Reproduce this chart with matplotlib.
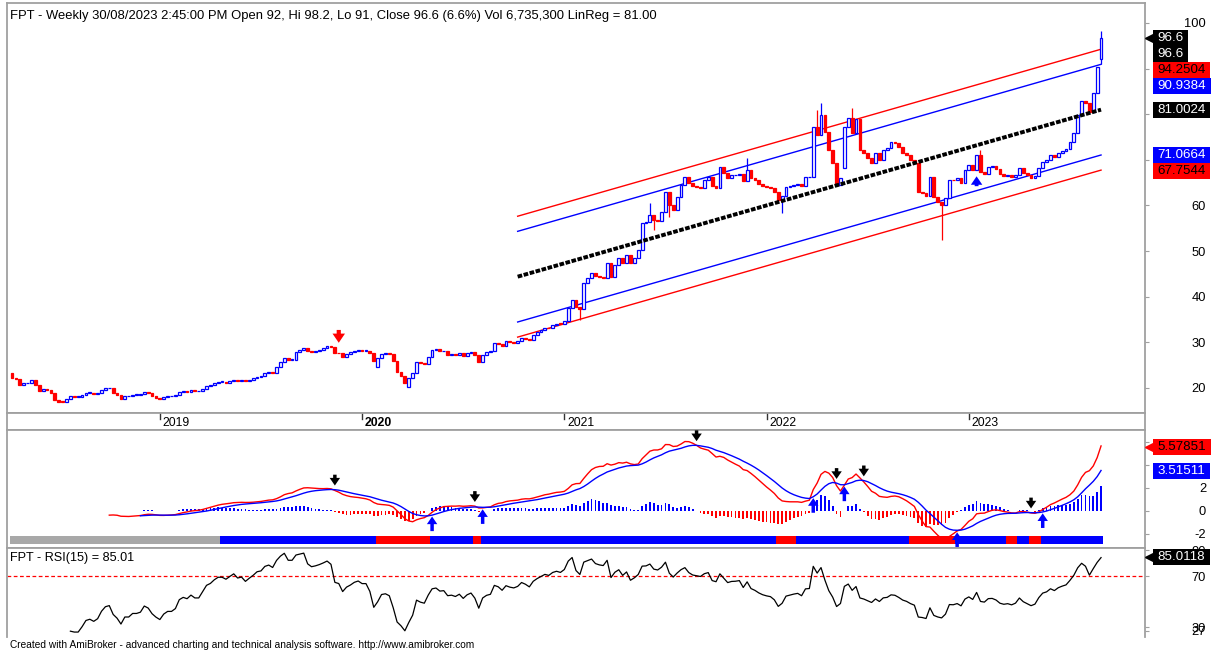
import numpy as np
import pandas as pd
import matplotlib
matplotlib.use("Agg")
import matplotlib.pyplot as plt
from matplotlib.lines import Line2D
from matplotlib.patches import Rectangle
from matplotlib.transforms import IdentityTransform

plt.rcParams['font.family'] = ['Liberation Sans', 'DejaVu Sans']

# weekly closes, Apr 2018 .. Aug 2023
closes = [
    22.3, 22.0, 20.6, 21.0, 21.2, 21.8, 20.6, 19.3, 19.8, 19.6,
    19.0, 17.4, 17.0, 16.9, 17.5, 18.2, 18.0, 18.0, 18.4, 18.9,
    19.0, 18.7, 18.9, 19.5, 19.9, 20.0, 19.0, 18.5, 17.6, 18.2,
    18.2, 18.5, 18.5, 18.6, 19.1, 18.9, 18.3, 17.9, 17.6, 18.0,
    18.2, 18.2, 18.4, 19.1, 19.3, 19.2, 19.5, 19.3, 19.3, 19.8,
    20.4, 20.6, 21.0, 21.3, 21.3, 21.2, 21.5, 21.8, 21.6, 21.7,
    21.5, 21.8, 22.1, 22.5, 22.6, 23.2, 23.4, 23.3, 24.5, 25.6,
    26.6,
    26.2, 26.2, 27.9, 28.3, 28.7, 28.0, 27.8, 28.0, 28.3, 28.7,
    29.2, 29.0, 27.7, 27.6, 26.9, 27.5, 27.8, 28.2, 28.4, 28.2,
    28.2, 27.6, 26.0, 26.6, 27.5, 27.6, 27.4, 26.0, 23.5, 22.6,
    21.2, 22.2, 23.2, 25.8, 25.4, 25.2, 26.8, 28.3, 28.5, 28.0,
    28.1, 27.3, 27.4, 27.2, 27.6, 27.0, 27.6, 27.9, 27.2, 25.6, 27.3,
    27.8, 28.0, 29.9, 29.7, 29.2, 30.2, 30.0, 29.9, 30.2, 31.0,
    30.8, 30.5, 31.6, 32.2, 32.7, 33.2, 33.1, 33.8, 34.1, 34.0,
    34.7,
    37.5, 39.3, 37.8, 37.3, 43.0, 44.1, 45.2, 44.5, 44.3, 44.2,
    47.4, 44.3, 47.0, 48.5, 47.3, 49.2, 47.3, 48.5, 50.3, 56.2,
    56.4, 58.0, 56.8, 56.6, 58.6, 63.0, 60.1, 59.0, 61.8, 64.5,
    66.3, 64.9, 64.2, 64.0, 63.8, 65.5, 66.2, 64.2, 63.9, 68.4,
    67.2, 66.0, 66.6, 66.7, 67.0, 65.3, 67.8, 66.0, 65.5, 64.8,
    64.3, 64.0, 63.8, 63.0, 61.2, 62.0, 64.0, 64.3, 64.6, 64.8,
    64.3, 66.2, 66.3,
    77.2, 75.5, 79.8, 76.0, 72.1, 69.3, 64.5, 66.0, 77.2, 79.2,
    75.9, 79.0, 72.2, 71.5, 70.4, 69.3, 71.5, 70.0, 72.2, 72.5,
    74.0, 73.8, 72.8, 71.6, 71.0, 70.0, 69.3, 63.0, 62.7, 62.1,
    66.2, 61.8, 60.8, 60.2, 61.6, 65.6, 65.5, 66.0, 65.0, 67.8,
    68.8, 67.8, 71.0, 67.3, 67.0, 68.5, 68.6, 68.0, 66.8, 66.4,
    66.6, 66.2, 66.7, 68.3, 67.2, 66.6, 66.0, 66.4, 68.2, 69.6,
    70.0, 71.0, 70.6, 71.5, 72.0, 72.4, 73.9, 75.9, 79.8, 83.0,
    82.4, 80.5, 84.7, 90.3, 96.6,
]
# opens follow the previous close except where the candle gapped
open_gaps = {0: 23.3, 94: 24.6, 102: 20.2, 214: 68.2, 280: 92.0}
# wicks sticking out of the bodies: bar -> (high, low)
wicks = {146: (None, 35.0), 164: (60.5, None), 165: (None, 54.6), 169: (None, 57.5),
         189: (70.4, None), 198: (None, 58.4), 207: (81.0, None), 208: (82.5, None),
         216: (81.4, None), 239: (None, 52.4), 249: (72.2, None), 280: (98.2, 91.0)}

dates = pd.date_range(end='2023-08-28', periods=len(closes), freq='W-MON')

# linear regression channel (last 151 bars)
channel_first_bar = 130
linreg_first = 44.4
linreg_last = 81.0024
band_inner = 9.936    # 1.5 stdev
band_outer = 13.248   # 2 stdev

# signal arrows (bar numbers)
price_sell = [84]
price_buy = [248]
macd_sell = [83, 119, 176, 212, 219, 262]
macd_buy = [108, 121, 206, 214, 243, 265]

# ribbon under the MACD
ribbon_starts = [0, 54, 94, 108, 119, 121, 197, 202, 231, 243, 256, 259, 262, 265]
ribbon_colors = ['#a8a8a8', 'b', 'r', 'b', 'r', 'b', 'r', 'b', 'r', 'b', 'r', 'b', 'r', 'b']

title = ("FPT - Weekly 30/08/2023 2:45:00 PM Open 92, Hi 98.2, Lo 91, Close 96.6 (6.6%) "
         "Vol 6,735,300 LinReg = 81.00")
macd_last, signal_last, rsi_last = 5.57851, 3.51511, 85.0118

BLUE, RED, GRAY = '#0000ff', '#ff0000', '#a0a0a0'
N = len(closes)
bars = np.arange(N)
c = np.array(closes)
o = np.array([open_gaps.get(i, closes[i - 1] if i else closes[0]) for i in range(N)])
hi = np.maximum(o, c)
lo = np.minimum(o, c)
for b, (h, l) in wicks.items():
    if h is not None:
        hi[b] = h
    if l is not None:
        lo[b] = l

# indicators
s = pd.Series(c)
macd = s.ewm(span=12, adjust=False).mean() - s.ewm(span=26, adjust=False).mean()
macd[:25] = np.nan
signal = macd.ewm(span=9, adjust=False).mean()
signal[:33] = np.nan
hist = macd - signal
hist[:34] = np.nan
d = s.diff()
gain = d.clip(lower=0).ewm(alpha=1 / 15, adjust=False).mean()
loss = (-d.clip(upper=0)).ewm(alpha=1 / 15, adjust=False).mean()
rsi = 100 - 100 / (1 + gain / loss)
rsi[:15] = np.nan

W, H = 1219, 652
fig = plt.figure(figsize=(W / 100, H / 100), dpi=100)


def place(l, t, r, b):
    return [l / W, 1 - b / H, (r - l) / W, (b - t) / H]


ax = fig.add_axes(place(7, 3, 1145, 413))
axd = fig.add_axes(place(7, 413, 1145, 430))
axm = fig.add_axes(place(7, 430, 1145, 548))
axr = fig.add_axes(place(7, 548, 1145, 637))

xl = (-1.3, 291.3)
for a in (ax, axd, axm, axr):
    a.set_xlim(*xl)
    for sp in a.spines.values():
        sp.set_color(GRAY)
        sp.set_linewidth(1.3)
    a.tick_params(axis='x', length=0, labelbottom=False)
    a.yaxis.tick_right()
    a.tick_params(axis='y', right=True, left=False, length=3, width=0.8, color=GRAY,
                  labelsize=9.3, pad=41)
axr.spines['bottom'].set_visible(False)

# price panel
ax.set_ylim(14.52, 104.38)
ax.set_yticks(range(20, 101, 10))
ax.set_yticklabels([str(v) if v not in (70, 80, 90) else '' for v in range(20, 101, 10)])
up = c >= o
body = np.maximum(np.abs(c - o), 0.15)
colors = np.where(up, BLUE, RED)
ax.vlines(bars, lo, hi, colors=colors, lw=0.9, zorder=2)
ax.bar(bars[up], body[up], bottom=np.minimum(o, c)[up], width=0.72, facecolor='white',
       edgecolor=BLUE, lw=0.9, zorder=3)
ax.bar(bars[~up], body[~up], bottom=np.minimum(o, c)[~up], width=0.72, facecolor=RED,
       edgecolor=RED, lw=0.9, zorder=3)

cx = [channel_first_bar, N - 1]
cy = np.array([linreg_first, linreg_last])
ax.plot(cx, cy + band_outer, color=RED, lw=1, zorder=1.5)
ax.plot(cx, cy - band_outer, color=RED, lw=1, zorder=1.5)
ax.plot(cx, cy + band_inner, color=BLUE, lw=1, zorder=1.5)
ax.plot(cx, cy - band_inner, color=BLUE, lw=1, zorder=1.5)
ax.plot(cx, cy, color='black', lw=2.8, ls=(0, (1.2, 0.4)), zorder=4)

ax.text(0.0026, 0.983, title, transform=ax.transAxes, va='top', ha='left', fontsize=9.4)


def arrow(a, bar, y, pointing_up, color, length=15, gap=2, scale=10):
    off = -length if pointing_up else length
    a.annotate('', xy=(bar, y), xytext=(0, off), textcoords='offset pixels',
               arrowprops=dict(arrowstyle='simple,head_length=0.55,head_width=0.75,tail_width=0.25',
                               color=color, lw=0, shrinkA=0, shrinkB=gap, mutation_scale=scale),
               annotation_clip=False, zorder=6)


for b in price_sell:
    arrow(ax, b, hi[b - 1:b + 2].max(), False, RED, length=17, gap=3, scale=12)
for b in price_buy:
    arrow(ax, b, lo[b - 1:b + 2].min(), True, BLUE, length=14, gap=3, scale=11)

# year labels strip
axd.set_ylim(0, 1)
axd.set_yticks([])
for i in range(1, N):
    if dates[i].year != dates[i - 1].year:
        axd.plot([i, i], [1, 0.62], color='#333333', lw=1)
        axd.text(i + 0.7, 0.42, str(dates[i].year), va='center', ha='left', fontsize=8.8,
                 fontweight='bold' if dates[i].year == 2020 else 'normal')

# MACD panel
axm.set_ylim(-3.22, 7.04)
axm.set_yticks([-2, 0, 2, 4, 6])
axm.set_yticklabels(['-2', '0', '2', '', ''])
hv = hist.values
axm.bar(bars[hv > 0], hv[hv > 0], width=0.45, color=BLUE, zorder=2)
axm.bar(bars[hv < 0], hv[hv < 0], width=0.45, color=RED, zorder=2)
axm.plot(bars, macd, color=RED, lw=1, zorder=3)
axm.plot(bars, signal, color=BLUE, lw=1, zorder=3)
ends = ribbon_starts[1:] + [N]
axm.broken_barh([(st - 0.5, en - st) for st, en in zip(ribbon_starts, ends)], (0.034, 0.069),
                facecolors=ribbon_colors, transform=axm.get_xaxis_transform(), zorder=2)
for b in macd_sell:
    arrow(axm, b, max(macd[b], signal[b]), False, 'black', length=15, gap=3)
for b in macd_buy:
    arrow(axm, b, min(macd[b], signal[b]), True, BLUE, length=16, gap=1)

# RSI panel
axr.set_ylim(22.16, 91.96)
axr.set_yticks([27, 30, 70, 90])
axr.axhline(70, color=RED, lw=0.9, ls=(0, (3, 2)))
axr.plot(bars, rsi, color='black', lw=0.9)
axr.text(0.0026, 0.96, 'FPT - RSI(15) = 85.01', transform=axr.transAxes, va='top', ha='left',
         fontsize=9.1)

for a in (ax, axm, axr):
    for lab in a.get_yticklabels():
        lab.set_horizontalalignment('right')

fig.text(10 / W, 1 - 645 / H, 'Created with AmiBroker - advanced charting and technical analysis '
         'software. http://www.amibroker.com', fontsize=7.3, va='center', ha='left')

# value tags on the right
renderer = fig.canvas.get_renderer()


def tags(a, items):
    ys = [a.transData.transform((0, v))[1] for v, *_ in items]
    prev = None
    for k in sorted(range(len(items)), key=lambda k: -ys[k]):
        y = ys[k]
        if prev is not None and y > prev - 16:
            y = prev - 16
        prev = y
        v, txt, face, fg, pointer = items[k]
        t = fig.text(1157, y, txt, transform=IdentityTransform(), va='center', ha='left',
                     fontsize=9.6, color=fg, zorder=5)
        bb = t.get_window_extent(renderer)
        fig.add_artist(Rectangle((1153, y - 8), bb.width + 9, 16, transform=IdentityTransform(),
                                 facecolor=face, edgecolor='none', zorder=4.9))
        if pointer:
            fig.add_artist(Line2D([1150], [y], marker='<', markersize=7, color=face, lw=0,
                                  transform=IdentityTransform(), zorder=4.9))


tags(ax, [(c[-1], '96.6', 'black', 'white', True),
          (c[-1], '96.6', 'black', 'white', False),
          (linreg_last + band_outer, '%.4f' % (linreg_last + band_outer), RED, 'black', False),
          (linreg_last + band_inner, '%.4f' % (linreg_last + band_inner), BLUE, 'white', False),
          (linreg_last, '%.4f' % linreg_last, 'black', 'white', False),
          (linreg_last - band_inner, '%.4f' % (linreg_last - band_inner), BLUE, 'white', False),
          (linreg_last - band_outer, '%.4f' % (linreg_last - band_outer), RED, 'black', False)])
tags(axm, [(macd_last, '%.5f' % macd_last, RED, 'black', True),
           (signal_last, '%.5f' % signal_last, BLUE, 'white', False)])
tags(axr, [(rsi_last, '%.4f' % rsi_last, 'black', 'white', True)])

fig.savefig('out.png', dpi=100)
